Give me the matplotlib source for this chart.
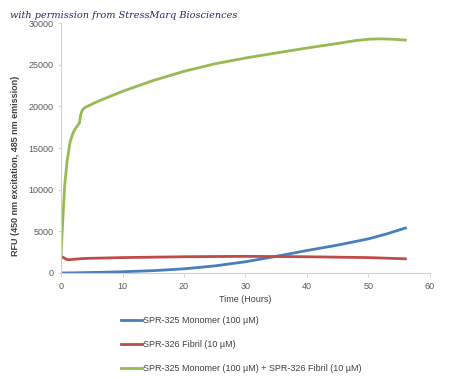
import matplotlib.pyplot as plt
import numpy as np

t_mono = [0, 2, 5, 10, 15, 20, 25, 30, 35, 40, 45, 50, 53, 56]
monomer = [0, 20, 60, 150, 280, 500, 850, 1350, 2000, 2700, 3350, 4100, 4700, 5400]

t_fib = [0, 0.5, 1, 1.5, 2, 4, 10, 20, 30, 40, 45, 50, 56]
fibril = [2000, 1800, 1600, 1600, 1650, 1750, 1850, 1950, 2000, 1950, 1900, 1850, 1700]

t_mix = [0, 0.3, 0.6, 1, 1.5, 2, 2.5, 3, 3.2, 3.5, 4, 6, 10, 15, 20, 25, 30, 35, 40, 45, 48, 50, 52, 54, 56]
mix = [2000, 6500, 10500, 13500, 15800, 16900, 17500, 18000, 19000, 19600, 19900, 20600, 21800, 23100, 24200, 25100, 25800, 26400, 27000, 27550, 27900, 28050, 28100, 28050, 27950]

labels = ['SPR-325 Monomer (100 \u00b5M)',
          'SPR-326 Fibril (10 \u00b5M)',
          'SPR-325 Monomer (100 \u00b5M) + SPR-326 Fibril (10 \u00b5M)']
colors = ['#4a7ebb', '#be4b48', '#98b954']

plt.rcParams['font.family'] = ['Liberation Sans', 'DejaVu Sans']

fig = plt.figure(figsize=(4.5, 3.79), dpi=100)
ax = fig.add_axes([61/450, 1-273/379, (430-61)/450, 250/379])

ax.plot(t_mono, monomer, color=colors[0], lw=2, label=labels[0])
ax.plot(t_fib, fibril, color=colors[1], lw=2, label=labels[1])
ax.plot(t_mix, mix, color=colors[2], lw=2, label=labels[2])

ax.set_xlim(0, 60)
ax.set_ylim(0, 30000)
ax.set_xticks(np.arange(0, 61, 10))
ax.set_yticks(np.arange(0, 30001, 5000))
for s in ['top', 'right']:
    ax.spines[s].set_visible(False)
for s in ['left', 'bottom']:
    ax.spines[s].set_color('#d0d0d0')
ax.tick_params(axis='both', labelsize=6.5, labelcolor='#595959', color='#d0d0d0',
               length=3, width=0.6)
ax.tick_params(axis='y', length=2)

ax.set_xlabel('Time (Hours)', fontsize=6.5, color='#404040', labelpad=3)
ax.set_ylabel('RFU (450 nm excitation, 485 nm emission)', fontsize=6.5,
              color='#404040', fontweight='bold')
ax.yaxis.set_label_coords(-0.112, 0.43)

fig.legend(loc='upper left', bbox_to_anchor=(113/450, 1-308/379), frameon=False,
           fontsize=6.5, labelspacing=1.65, handlelength=2.3, handletextpad=0.15,
           labelcolor='#404040')

fig.text(10/450, 1-15/379, 'with permission from StressMarq Biosciences',
         fontsize=7, style='italic', family='serif', color='#1f2d5a', va='center')

fig.savefig('out.png', dpi=100)
